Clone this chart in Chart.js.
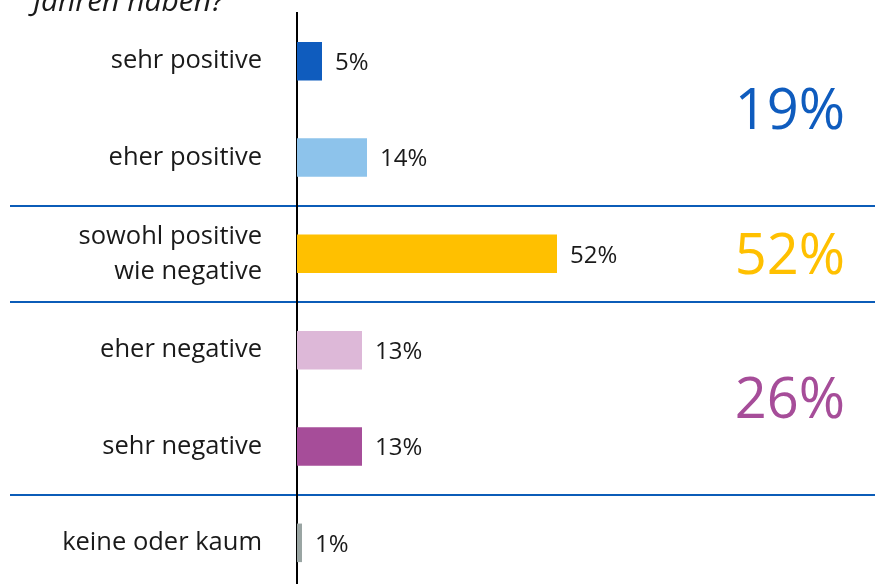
<!DOCTYPE html>
<html>
<head>
<meta charset="utf-8">
<script src="https://cdn.jsdelivr.net/npm/chart.js@4.4.1/dist/chart.umd.min.js"></script>
<style>
  html, body { margin: 0; padding: 0; background: #fff; }
  #wrap { width: 875px; height: 584px; overflow: hidden; position: relative; }
  #chart { display: block; }
</style>
</head>
<body>
<div id="wrap"><canvas id="chart" width="875" height="600"></canvas></div>
<script>
const categories = [
  "sehr positive",
  "eher positive",
  ["sowohl positive", "wie negative"],
  "eher negative",
  "sehr negative",
  "keine oder kaum",
];
const values = [5, 14, 52, 13, 13, 1];
const barColors = ["#0F5CBE", "#8DC3EB", "#FFC000", "#DDB8D8", "#A64D99", "#9AA5A3"];

// summary figures on the right, and the bars they group
const summaryValues = [19, 52, 26];
const summaryGroups = [[0, 1], [2], [3, 4]];
const summaryColors = ["#0F5CBE", "#FFC000", "#A64D99"];

// separator lines go below these category indexes
const separatorsAfter = [1, 2, 4];

const titleText = "Jahren haben?";
const FONT = "'Open Sans', sans-serif";

const decorations = {
  id: "decorations",
  beforeDraw(chart) {
    const ctx = chart.ctx;
    const y = chart.scales.y;
    ctx.save();
    ctx.strokeStyle = "#0B5CB8";
    ctx.lineWidth = 2;
    for (const i of separatorsAfter) {
      const py = Math.round((y.getPixelForValue(i) + y.getPixelForValue(i + 1)) / 2);
      ctx.beginPath();
      ctx.moveTo(10, py);
      ctx.lineTo(chart.width, py);
      ctx.stroke();
    }
    ctx.restore();
  },
  afterDatasetsDraw(chart) {
    const ctx = chart.ctx;
    const meta = chart.getDatasetMeta(0);
    ctx.save();
    ctx.font = "24px " + FONT;
    ctx.fillStyle = "#1a1a1a";
    ctx.textAlign = "left";
    ctx.textBaseline = "middle";
    meta.data.forEach((bar, i) => {
      ctx.fillText(values[i] + "%", bar.x + 13, bar.y + 2);
    });

    const y = chart.scales.y;
    ctx.font = "56px " + FONT;
    ctx.textAlign = "right";
    summaryValues.forEach((v, k) => {
      const idx = summaryGroups[k];
      const cy = idx.reduce((s, i) => s + y.getPixelForValue(i), 0) / idx.length;
      ctx.fillStyle = summaryColors[k];
      ctx.fillText(v + "%", 845, cy + 4);
    });

    ctx.font = "italic 30px " + FONT;
    ctx.fillStyle = "#1a1a1a";
    ctx.textAlign = "left";
    ctx.textBaseline = "alphabetic";
    ctx.fillText(titleText, 33, 11);
    ctx.restore();
  },
};

const chart = new Chart(document.getElementById("chart"), {
  type: "bar",
  data: {
    labels: categories,
    datasets: [
      {
        data: values,
        backgroundColor: barColors,
        borderWidth: 0,
        categoryPercentage: 0.4,
        barPercentage: 1,
      },
    ],
  },
  options: {
    responsive: false,
    animation: false,
    indexAxis: "y",
    layout: { padding: { top: 13, bottom: 9, left: 0, right: 0 } },
    plugins: {
      title: { display: false },
      legend: { display: false },
      tooltip: { enabled: false },
    },
    scales: {
      x: {
        display: false,
        min: 0,
        max: 115.6,
        grid: { display: false },
      },
      y: {
        grid: { display: false, drawTicks: false },
        border: { display: true, color: "#000", width: 2 },
        ticks: {
          color: "#1a1a1a",
          padding: 35,
          font: { family: FONT, size: 25.5, lineHeight: 1.38 },
        },
        afterFit(scale) {
          scale.width = 297;
          scale.paddingTop = 0;
          scale.paddingBottom = 0;
        },
      },
    },
  },
  plugins: [decorations],
});
</script>
</body>
</html>
